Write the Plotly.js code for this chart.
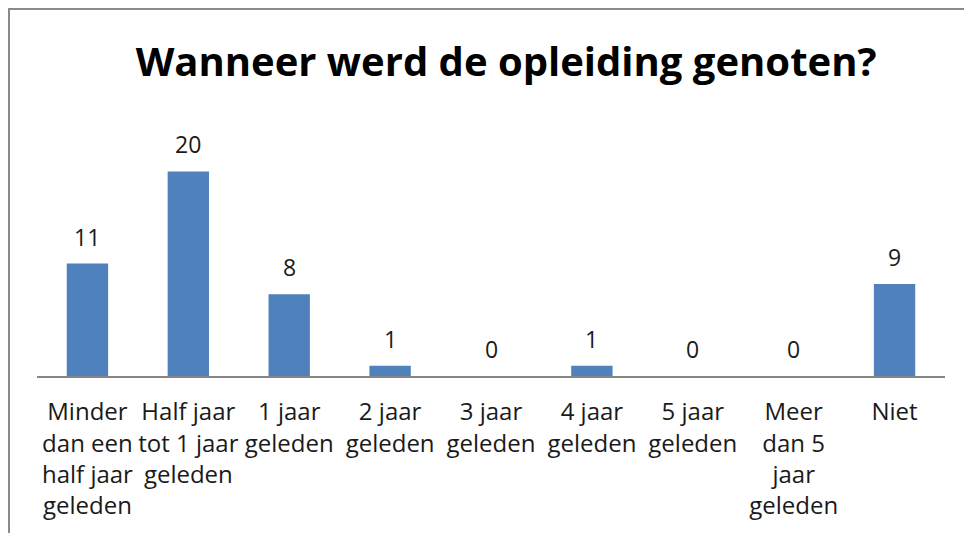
<!DOCTYPE html>
<html>
<head>
<meta charset="utf-8">
<script src="https://cdn.plot.ly/plotly-3.0.1.min.js"></script>
<style>
  html, body { margin: 0; padding: 0; background: #ffffff; overflow: hidden; }
  #frame { position: absolute; left: 8px; top: 8px; width: 956px; height: 525px;
           border-left: 2px solid #8a8a8a; border-top: 2px solid #8a8a8a; box-sizing: border-box; }
  #chart { width: 954px; height: 523px; }
</style>
</head>
<body>
<div id="frame"><div id="chart"></div></div>
<script>
const categories = [
  "Minder<br>dan een<br>half jaar<br>geleden",
  "Half jaar<br>tot 1 jaar<br>geleden",
  "1 jaar<br>geleden",
  "2 jaar<br>geleden",
  "3 jaar<br>geleden",
  "4 jaar<br>geleden",
  "5 jaar<br>geleden",
  "Meer<br>dan 5<br>jaar<br>geleden",
  "Niet"
];
const values = [11, 20, 8, 1, 0, 1, 0, 0, 9];
const titleText = "Wanneer werd de opleiding genoten?";

const FONT = "Open Sans, Noto Sans, sans-serif";

const trace = {
  type: "bar",
  x: categories,
  y: values,
  width: 0.41,
  marker: { color: "#4f81bd" },
  hoverinfo: "none"
};

const annotations = categories.map((c, i) => ({
  x: c,
  y: values[i],
  xref: "x",
  yref: "y",
  text: String(values[i]),
  showarrow: false,
  yanchor: "bottom",
  yshift: 9,
  font: { family: FONT, size: 23, color: "#1a1a1a" }
}));

const layout = {
  width: 954,
  height: 523,
  margin: { l: 27, r: 19, t: 140.5, b: 157 },
  paper_bgcolor: "#ffffff",
  plot_bgcolor: "#ffffff",
  showlegend: false,
  title: {
    text: "<b>" + titleText + "</b>",
    font: { family: FONT, size: 40, color: "#000000" },
    x: 0.52,
    xanchor: "center",
    y: 0.9,
    yref: "container",
    yanchor: "middle"
  },
  xaxis: {
    type: "category",
    showline: true,
    linecolor: "#868686",
    linewidth: 1.5,
    ticks: "",
    showgrid: false,
    zeroline: false,
    tickfont: { family: FONT, size: 24, color: "#1a1a1a" },
    ticklabelstandoff: 14
  },
  yaxis: {
    range: [0, 22],
    visible: false,
    showgrid: false,
    zeroline: false
  },
  annotations: annotations
};

Plotly.newPlot("chart", [trace], layout, { displayModeBar: false, staticPlot: true });
</script>
</body>
</html>
